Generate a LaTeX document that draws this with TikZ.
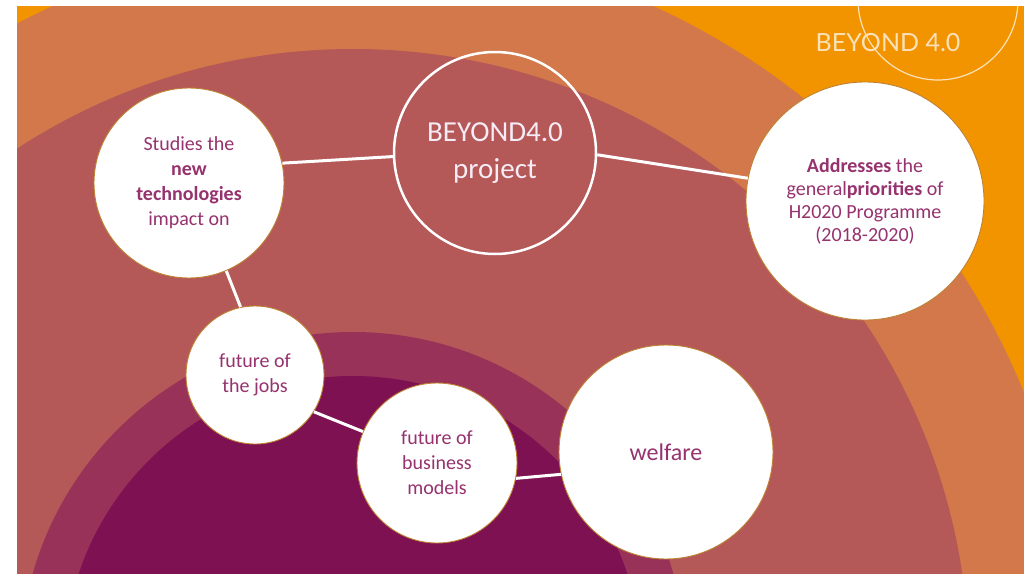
\documentclass[tikz,border=0pt]{standalone}
\usepackage{fontspec}
\setmainfont{Carlito}
\newfontfamily\logofont{Lato}
\definecolor{ringA}{RGB}{242,148,0}
\definecolor{ringB}{RGB}{211,120,74}
\definecolor{ringC}{RGB}{180,88,88}
\definecolor{ringD}{RGB}{152,50,88}
\definecolor{ringE}{RGB}{126,17,82}
\definecolor{textc}{RGB}{150,50,110}
\definecolor{bordc}{RGB}{190,130,50}
\definecolor{logoc}{RGB}{250,225,185}
\definecolor{projc}{RGB}{246,236,246}
\begin{document}
\begin{tikzpicture}[x=1pt,y=-1pt,
  bubble/.style={circle,draw=bordc,line width=0.9pt,fill=white,inner sep=0pt,align=center,text=textc,font=\fontsize{20}{25}\selectfont},
  link/.style={draw=white,line width=3pt}]
\useasboundingbox (0,0) rectangle (1024,573);
\fill[white] (0,0) rectangle (1024,573);
\begin{scope}
\clip (17,6) rectangle (1024,573);
\fill[ringA] (17,6) rectangle (1024,573);
\fill[ringB] (353,665) circle[radius=724pt];
\fill[ringC] (353,665) circle[radius=616pt];
\fill[ringD] (353,665) circle[radius=333pt];
\fill[ringE] (353,665) circle[radius=289pt];
\draw[logoc,line width=1.2pt] (938,0) circle[radius=80pt];
\end{scope}
\node[text=logoc,font=\logofont\fontsize{25}{25}\selectfont,inner sep=0pt] (logo) at (888,43) {BEYOND 4.0};

\node[circle,draw=white,line width=2.5pt,minimum size=202pt,inner sep=0pt,align=center,text=projc,font=\fontsize{29}{37}\selectfont] (beyond) at (495,153) {BEYOND4.0\\project};
\node[bubble,minimum size=190pt] (studies) at (189,183) {Studies the\\\textbf{new}\\\textbf{technologies}\\impact on};
\node[bubble,minimum size=238pt,font=\fontsize{20}{23}\selectfont] (addr) at (865,201) {\textbf{Addresses} the\\general\textbf{priorities} of\\H2020 Programme\\(2018-2020)};
\node[bubble,minimum size=138pt] (jobs) at (255,375) {future of\\the jobs};
\node[bubble,minimum size=160pt] (business) at (437,463) {future of\\business\\models};
\node[bubble,minimum size=214pt,font=\fontsize{24}{28}\selectfont] (welfare) at (666,452) {welfare};

\draw[link] (studies.12) -- (beyond.182);
\draw[link] (beyond.-1) -- (addr.169);
\draw[link] (studies.-67) -- (jobs.102);
\draw[link] (jobs.-32) -- (business.157);
\draw[link] (business.-11) -- (welfare.192);
\end{tikzpicture}
\end{document}
